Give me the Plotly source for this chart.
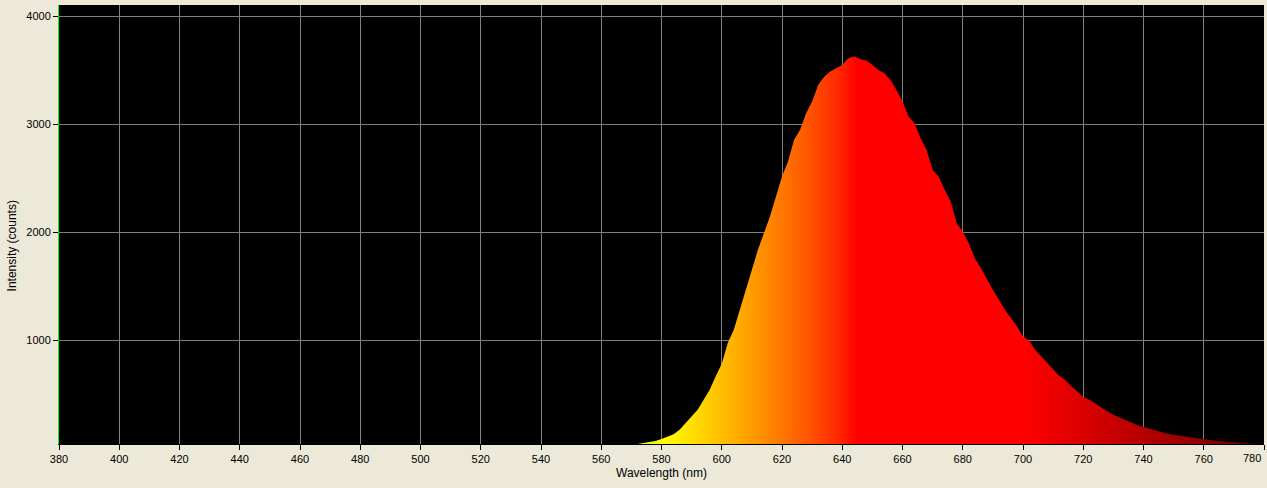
import plotly.graph_objects as go

# spectrum, 2 nm steps
wavelength = list(range(572, 782, 2))
counts = [
    38, 46, 55, 65, 83, 102, 127, 170, 231, 299,
    355, 448, 540, 664, 781, 972, 1096, 1281, 1466, 1636,
    1836, 1991, 2145, 2330, 2515, 2654, 2855, 2948, 3102, 3210,
    3364, 3441, 3488, 3520, 3549, 3611, 3630, 3602, 3590, 3549,
    3503, 3472, 3410, 3318, 3210, 3071, 3009, 2870, 2762, 2577,
    2515, 2392, 2284, 2083, 2006, 1898, 1759, 1667, 1559, 1466,
    1373, 1281, 1204, 1127, 1034, 995, 910, 849, 787, 725,
    670, 633, 571, 525, 472, 448, 410, 370, 340, 309,
    284, 256, 231, 210, 194, 179, 164, 145, 133, 123,
    114, 108, 99, 90, 83, 74, 68, 62, 59, 56,
    49, 46, 40, 37, 30,
]

x_ticks = list(range(380, 800, 20))
y_ticks = [1000, 2000, 3000, 4000]


def wl_rgb(w):
    # classic wavelength -> rgb mapping, only used for the fill colours
    if w < 440:
        r, g, b = (440 - w) / 60, 0.0, 1.0
    elif w < 490:
        r, g, b = 0.0, (w - 440) / 50, 1.0
    elif w < 510:
        r, g, b = 0.0, 1.0, (510 - w) / 20
    elif w < 580:
        r, g, b = (w - 510) / 70, 1.0, 0.0
    elif w < 645:
        r, g, b = 1.0, (645 - w) / 65, 0.0
    else:
        r, g, b = 1.0, 0.0, 0.0
    f = 1.0
    if w > 700:
        f = 0.3 + 0.7 * (780 - w) / 80
    c = [int(round(255 * (v * f) ** 0.8)) if v > 0 else 0 for v in (r, g, b)]
    return "rgb(%d,%d,%d)" % tuple(c)


lo, hi = 570, 780
scale = [[(w - lo) / (hi - lo), wl_rgb(w)] for w in range(lo, hi + 1, 5)]

fig = go.Figure()
fig.add_trace(go.Scatter(
    x=wavelength, y=counts, mode="lines",
    line=dict(width=0, color="red"),
    fill="tozeroy",
    fillgradient=dict(type="horizontal", start=lo, stop=hi, colorscale=scale),
    hoverinfo="skip",
))

font = dict(family="Liberation Sans, Arial, sans-serif", size=11, color="black")
title_font = dict(family="Liberation Sans, Arial, sans-serif", size=12, color="black")

fig.update_layout(
    width=1267, height=488,
    paper_bgcolor="#ECE9D8", plot_bgcolor="black",
    margin=dict(l=59, r=3, t=5, b=44, autoexpand=False),
    showlegend=False,
    font=font,
)
# last label sits left of its tick so it stays inside the window
x_labels = [str(v) for v in x_ticks[:-1]] + [""]
fig.update_xaxes(
    range=[380, 780], tickvals=x_ticks, ticktext=x_labels,
    showgrid=True, gridcolor="#808080", gridwidth=1, zeroline=False,
    ticks="outside", ticklen=5, tickcolor="black",
    showline=True, linecolor="black", linewidth=1,
    title=dict(text="Wavelength (nm)", font=title_font, standoff=4),
)
fig.update_yaxes(
    range=[37, 4105], tickvals=y_ticks,
    showgrid=True, gridcolor="#808080", gridwidth=1, zeroline=False,
    ticks="outside", ticklen=5, tickcolor="black",
    showline=True, linecolor="#00FF00", linewidth=1,
)
fig.add_annotation(
    text=str(x_ticks[-1]), x=x_ticks[-1], xref="x", xanchor="right", xshift=-1,
    y=0, yref="paper", yanchor="top", yshift=-6, showarrow=False, font=font,
)
fig.add_annotation(
    text="Intensity (counts)", textangle=-90,
    x=0, xref="paper", xanchor="center", xshift=-47,
    y=0.45, yref="paper", yanchor="middle", showarrow=False, font=title_font,
)

fig.write_html("out.html", config={"displayModeBar": False},
               post_script="document.body.style.margin='0px';")
